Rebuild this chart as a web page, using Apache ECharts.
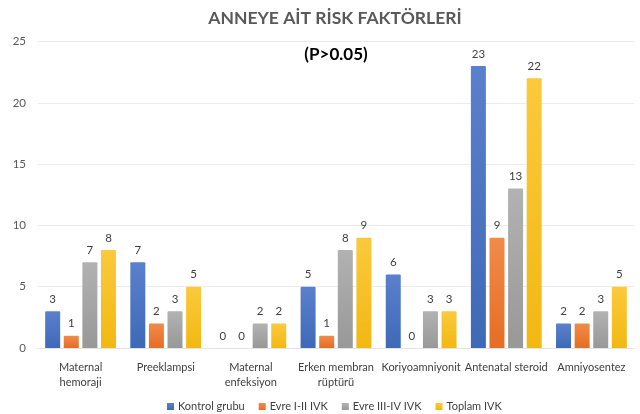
<!DOCTYPE html>
<html>
<head>
<meta charset="utf-8">
<script src="https://cdn.jsdelivr.net/npm/echarts@6/dist/echarts.min.js"></script>
<style>
  html, body { margin: 0; padding: 0; background: #ffffff; }
  #chart { width: 640px; height: 414px; }
</style>
</head>
<body>
<div id="chart"></div>
<script>
// Maternal risk factors by group
const categories = [
  'Maternal\nhemoraji',
  'Preeklampsi',
  'Maternal\nenfeksiyon',
  'Erken membran\nrüptürü',
  'Koriyoamniyonit',
  'Antenatal steroid',
  'Amniyosentez'
];
const seriesNames = ['Kontrol grubu', 'Evre I-II IVK', 'Evre III-IV IVK', 'Toplam IVK'];
const kontrolGrubu = [3, 7, 0, 5, 6, 23, 2];
const evre12 = [1, 2, 0, 1, 0, 9, 2];
const evre34 = [7, 3, 2, 8, 3, 13, 3];
const toplam = [8, 5, 2, 9, 3, 22, 5];
const yTicks = [0, 5, 10, 15, 20, 25];

const FONT = 'Lato, "Open Sans", sans-serif';
const colors = [
  ['#5b80cd', '#3e69b7'],
  ['#f08b4a', '#e66d24'],
  ['#b2b2b2', '#989898'],
  ['#fbc93c', '#f2b812']
];

function grad(c) {
  return new echarts.graphic.LinearGradient(0, 0, 0, 1, [
    { offset: 0, color: c[0] },
    { offset: 1, color: c[1] }
  ]);
}

const allValues = [kontrolGrubu, evre12, evre34, toplam];

const chart = echarts.init(document.getElementById('chart'), null, { renderer: 'canvas' });
chart.setOption({
  animation: false,
  title: [
    {
      text: 'ANNEYE AİT RİSK FAKTÖRLERİ',
      left: 330, top: 4, textAlign: 'center',
      textStyle: { fontFamily: FONT, fontSize: 17.5, fontWeight: 'bold', color: '#595959' }
    },
    {
      text: '(P>0.05)',
      left: 331, top: 41, textAlign: 'center',
      textStyle: { fontFamily: FONT, fontSize: 17, fontWeight: 'bold', color: '#000000' }
    }
  ],
  legend: {
    data: seriesNames,
    top: 396,
    left: 162,
    itemWidth: 7, itemHeight: 7, itemGap: 14,
    icon: 'rect',
    textStyle: { fontFamily: FONT, fontSize: 11, color: '#404040', padding: [0, 0, 0, -1] }
  },
  grid: { left: 38, right: 6, top: 41.5, bottom: 66 },
  xAxis: {
    type: 'category',
    data: categories,
    axisLine: { show: true, lineStyle: { color: '#e4e4e4' } },
    axisTick: { show: false },
    axisLabel: {
      fontFamily: FONT, fontSize: 11, color: '#404040',
      interval: 0, margin: 12, lineHeight: 15
    }
  },
  yAxis: {
    type: 'value',
    min: yTicks[0], max: yTicks[yTicks.length - 1], interval: 5,
    axisLine: { show: false },
    axisTick: { show: false },
    splitLine: { lineStyle: { color: '#ececec' } },
    axisLabel: { fontFamily: FONT, fontSize: 11.5, color: '#595959', margin: 12 }
  },
  series: seriesNames.map((name, i) => ({
    name: name,
    type: 'bar',
    data: allValues[i],
    barWidth: 15,
    barGap: '24%',
    itemStyle: { color: grad(colors[i]), borderRadius: [1, 1, 0, 0] },
    label: {
      show: true, position: 'top', distance: 6,
      fontFamily: FONT, fontSize: 11.5, color: '#404040'
    }
  })),
  color: colors.map(c => c[1])
});
</script>
</body>
</html>
